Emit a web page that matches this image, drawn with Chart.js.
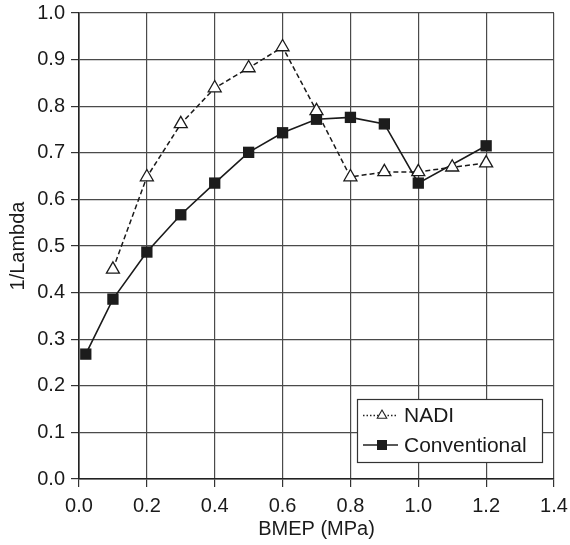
<!DOCTYPE html>
<html>
<head>
<meta charset="utf-8">
<script src="https://cdn.jsdelivr.net/npm/chart.js@4"></script>
<style>
  html, body { margin: 0; padding: 0; background: #fff; }
  #wrap { width: 570px; height: 545px; }
</style>
</head>
<body>
<div id="wrap"><canvas id="c" width="570" height="545"></canvas></div>
<script>
// BMEP (MPa) against 1/Lambda for the two combustion systems
const nadiBmep = [0.1, 0.2, 0.3, 0.4, 0.5, 0.6, 0.7, 0.8, 0.9, 1.0, 1.1, 1.2];
const nadiLambdaInv = [0.45, 0.648, 0.762, 0.839, 0.882, 0.927, 0.79, 0.648, 0.659, 0.659, 0.669, 0.678];

const convBmep = [0.02, 0.1, 0.2, 0.3, 0.4, 0.5, 0.6, 0.7, 0.8, 0.9, 1.0, 1.2];
const convLambdaInv = [0.268, 0.386, 0.487, 0.567, 0.635, 0.701, 0.743, 0.772, 0.776, 0.762, 0.635, 0.715];

const xTicks = [0.0, 0.2, 0.4, 0.6, 0.8, 1.0, 1.2, 1.4];
const xTickLabels = ['0.0', '0.2', '0.4', '0.6', '0.8', '1.0', '1.2', '1.4'];
const yTicks = [0.0, 0.1, 0.2, 0.3, 0.4, 0.5, 0.6, 0.7, 0.8, 0.9, 1.0];
const yTickLabels = ['0.0', '0.1', '0.2', '0.3', '0.4', '0.5', '0.6', '0.7', '0.8', '0.9', '1.0'];

const seriesNames = ['NADI', 'Conventional'];
const xTitle = 'BMEP (MPa)';
const yTitle = '1/Lambda';

const FONT = '"Liberation Sans", Arial, Helvetica, sans-serif';
const toPoints = (xs, ys) => xs.map((x, i) => ({ x: x, y: ys[i] }));

// Boxed legend inside the lower-right corner of the plot area
const insideLegend = {
  id: 'insideLegend',
  afterDraw(chart) {
    const ctx = chart.ctx;
    const area = chart.chartArea;
    const w = 185, h = 63;
    const x0 = area.right - 12 - w;
    const y0 = area.bottom - 17 - h;
    ctx.save();
    ctx.fillStyle = '#fff';
    ctx.fillRect(x0, y0, w, h);
    ctx.strokeStyle = '#333';
    ctx.lineWidth = 1.2;
    ctx.strokeRect(x0 + 0.5, y0 + 0.5, w, h);

    const ds = chart.data.datasets;
    const rows = [y0 + 16.5, y0 + 46];
    ds.forEach((d, i) => {
      const cy = rows[i];
      const lx0 = x0 + 6, lx1 = x0 + 41, mx = x0 + 25;
      ctx.strokeStyle = '#222';
      ctx.lineWidth = i === 0 ? 1.3 : 1.6;
      ctx.setLineDash(i === 0 ? [1.5, 2] : []);
      ctx.beginPath();
      ctx.moveTo(lx0, cy);
      ctx.lineTo(lx1, cy);
      ctx.stroke();
      ctx.setLineDash([]);
      if (i === 0) {
        const r = 5.5;
        ctx.fillStyle = '#fff';
        ctx.beginPath();
        ctx.moveTo(mx, cy - r);
        ctx.lineTo(mx + r * 0.866, cy + r * 0.5);
        ctx.lineTo(mx - r * 0.866, cy + r * 0.5);
        ctx.closePath();
        ctx.fill();
        ctx.lineWidth = 1.1;
        ctx.stroke();
      } else {
        ctx.fillStyle = '#1c1c1c';
        ctx.fillRect(mx - 5, cy - 5, 10, 10);
      }
      ctx.fillStyle = '#1a1a1a';
      ctx.font = '21px ' + FONT;
      ctx.textBaseline = 'middle';
      ctx.textAlign = 'left';
      ctx.fillText(d.label, x0 + 47, cy + 1);
    });
    ctx.restore();
  }
};

new Chart(document.getElementById('c'), {
  type: 'line',
  data: {
    datasets: [
      {
        label: seriesNames[0],
        data: toPoints(nadiBmep, nadiLambdaInv),
        borderColor: '#1a1a1a',
        borderWidth: 1.5,
        borderDash: [5, 3],
        pointStyle: 'triangle',
        pointRadius: 7.5,
        pointBackgroundColor: '#fff',
        pointBorderColor: '#1a1a1a',
        pointBorderWidth: 1.3,
        tension: 0
      },
      {
        label: seriesNames[1],
        data: toPoints(convBmep, convLambdaInv),
        borderColor: '#1a1a1a',
        borderWidth: 1.6,
        pointStyle: 'rect',
        pointRadius: 8,
        pointBackgroundColor: '#1c1c1c',
        pointBorderColor: '#1c1c1c',
        pointBorderWidth: 0,
        tension: 0
      }
    ]
  },
  options: {
    responsive: false,
    animation: false,
    devicePixelRatio: 1,
    layout: { padding: { left: 0, right: 16, top: 13, bottom: 0 } },
    plugins: {
      legend: { display: false },
      tooltip: { enabled: false }
    },
    scales: {
      x: {
        type: 'linear',
        min: 0,
        max: 1.4,
        afterBuildTicks: s => { s.ticks = xTicks.map(v => ({ value: v })); },
        afterFit: s => { s.height = 66; s.paddingLeft = 0; s.paddingRight = 0; },
        ticks: {
          color: '#1a1a1a',
          font: { family: FONT, size: 20 },
          padding: 7,
          maxRotation: 0,
          callback: (v) => xTickLabels[xTicks.findIndex(t => Math.abs(t - v) < 1e-9)]
        },
        grid: {
          color: '#4a4a4a',
          lineWidth: 1.2,
          tickLength: 8,
          tickColor: '#333'
        },
        border: { color: '#222', width: 1.6 },
        title: {
          display: true,
          text: xTitle,
          color: '#1a1a1a',
          font: { family: FONT, size: 20 },
          padding: { top: 0, bottom: 4 }
        }
      },
      y: {
        type: 'linear',
        min: 0,
        max: 1.0,
        afterBuildTicks: s => { s.ticks = yTicks.map(v => ({ value: v })); },
        afterFit: s => { s.width = 79; s.paddingTop = 0; s.paddingBottom = 0; },
        ticks: {
          color: '#1a1a1a',
          font: { family: FONT, size: 20 },
          padding: 6,
          callback: (v) => yTickLabels[yTicks.findIndex(t => Math.abs(t - v) < 1e-9)]
        },
        grid: {
          color: '#4a4a4a',
          lineWidth: 1.2,
          tickLength: 8,
          tickColor: '#333'
        },
        border: { color: '#222', width: 1.6 },
        title: {
          display: true,
          text: yTitle,
          color: '#1a1a1a',
          font: { family: FONT, size: 20 },
          padding: { top: 6, bottom: 0 }
        }
      }
    }
  },
  plugins: [insideLegend]
});
</script>
</body>
</html>
